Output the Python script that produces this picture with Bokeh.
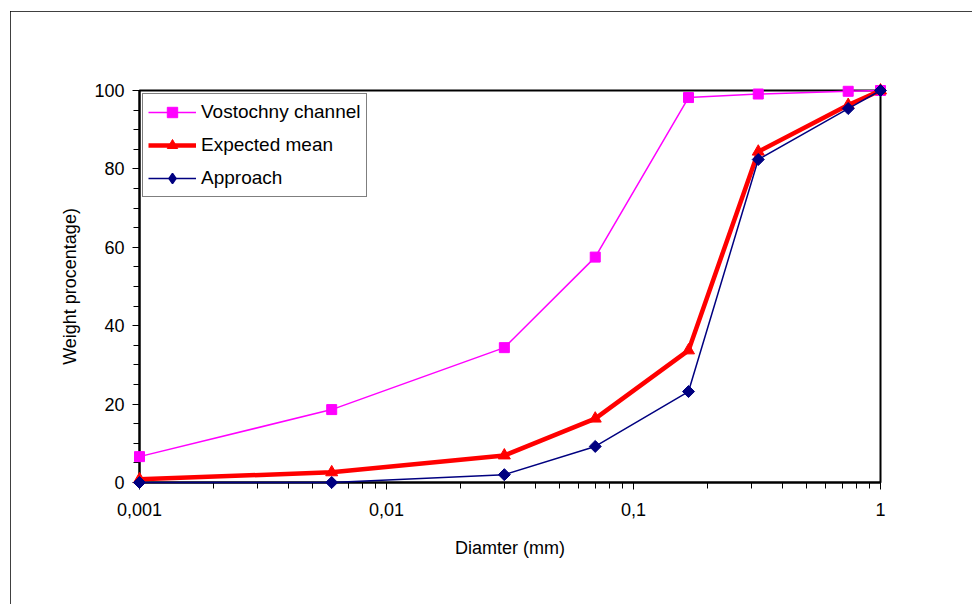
import math
from bokeh.plotting import figure
from bokeh.models import (Range1d, FixedTicker, SingleIntervalTicker, CustomJSTickFormatter,
                          Legend, LegendItem, ColumnDataSource)
from bokeh.embed import file_html
from bokeh.resources import INLINE

# ---- data ----
diameter = [0.001, 0.006, 0.03, 0.07, 0.167, 0.32, 0.74, 1.0]
vostochny = [6.6, 18.6, 34.4, 57.5, 98.2, 99.1, 99.8, 100.0]
expected = [0.8, 2.6, 6.9, 16.3, 33.7, 84.4, 96.3, 100.0]
approach = [0.0, 0.0, 2.0, 9.2, 23.2, 82.4, 95.4, 100.0]
x_ticks = [0.001, 0.01, 0.1, 1]
series_names = ["Vostochny channel", "Expected mean", "Approach"]

FONT = "Liberation Sans"

p = figure(width=962, height=593, x_axis_type="log",
           x_range=Range1d(0.001, 1), y_range=Range1d(0, 100),
           output_backend="svg", toolbar_location=None,
           min_border_left=129, min_border_top=79, min_border_right=92, min_border_bottom=122,
           background_fill_color="white", border_fill_color="white")
p.margin = (11, 3, 0, 10)
p.styles = {"outline": "1px solid black", "outline-offset": "-1px"}
# range used only by the legend key renderer, so that it stays out of the frame
p.extra_y_ranges = {"legend_key": Range1d(1000, 2000)}

p.grid.visible = False
p.outline_line_color = "black"
p.outline_line_width = 2

minor = []
for d in [0.001, 0.01, 0.1]:
    for k in range(2, 10):
        minor.append(d * k)
p.xaxis.ticker = FixedTicker(ticks=x_ticks, minor_ticks=minor)
p.xaxis.formatter = CustomJSTickFormatter(code="return tick.toString().replace('.', ',');")
p.yaxis.ticker = SingleIntervalTicker(interval=20, num_minor_ticks=4)

for ax in (p.xaxis[0], p.yaxis[0]):
    ax.axis_line_color = "black"
    ax.axis_line_width = 2
    ax.major_tick_line_color = "black"
    ax.minor_tick_line_color = "black"
    ax.major_tick_in = 0
    ax.minor_tick_in = 0
    ax.major_tick_out = 7
    ax.minor_tick_out = 6
    ax.major_label_text_font = FONT
    ax.major_label_text_font_size = "18px"
    ax.major_label_text_color = "black"
    ax.axis_label_text_font = FONT
    ax.axis_label_text_font_size = "18px"
    ax.axis_label_text_font_style = "normal"
    ax.axis_label_text_color = "black"

p.xaxis.axis_label = "Diamter (mm)"
p.yaxis.axis_label = "Weight procentage)"
p.xaxis.major_label_standoff = 13
p.xaxis.axis_label_standoff = 19
p.yaxis.major_label_standoff = 8
p.yaxis.axis_label_standoff = 11

src = ColumnDataSource(dict(d=diameter, v=vostochny, e=expected, a=approach))

l1 = p.line("d", "v", source=src, line_color="#FF00FF", line_width=1.5, level="overlay")
m1 = p.scatter("d", "v", source=src, marker="square", size=10, fill_color="#FF00FF",
               line_color="#FF00FF", level="overlay")
l2 = p.line("d", "e", source=src, line_color="#FF0000", line_width=4.5, level="overlay")
m2 = p.scatter("d", "e", source=src, marker="triangle", size=12, fill_color="#FF0000",
               line_color="#FF0000", level="overlay")
l3 = p.line("d", "a", source=src, line_color="#000080", line_width=1.5, level="overlay")
m3 = p.scatter("d", "a", source=src, marker="square", size=8.5, angle=math.pi / 4,
               fill_color="#000080", line_color="#000080", level="overlay")
# legend-only key (mapped to an out-of-view range) so that the legend shows a pointed diamond
m3_key = p.scatter("d", "a", source=src, y_range_name="legend_key",
                   marker="diamond", size=10, fill_color="#000080",
                   line_color="#000080", line_width=1.5)

legend = Legend(items=[LegendItem(label=series_names[0], renderers=[l1, m1]),
                       LegendItem(label=series_names[1], renderers=[l2, m2]),
                       LegendItem(label=series_names[2], renderers=[l3, m3_key])],
                location="top_left", margin=3, padding=5, spacing=7,
                glyph_width=48, glyph_height=26, label_height=26, label_standoff=5,
                label_text_font=FONT, label_text_font_size="19px", label_text_color="black",
                border_line_color="black", border_line_width=1, background_fill_color="white",
                background_fill_alpha=1)
p.add_layout(legend, "center")

open("out.html", "w").write(file_html(p, INLINE))
